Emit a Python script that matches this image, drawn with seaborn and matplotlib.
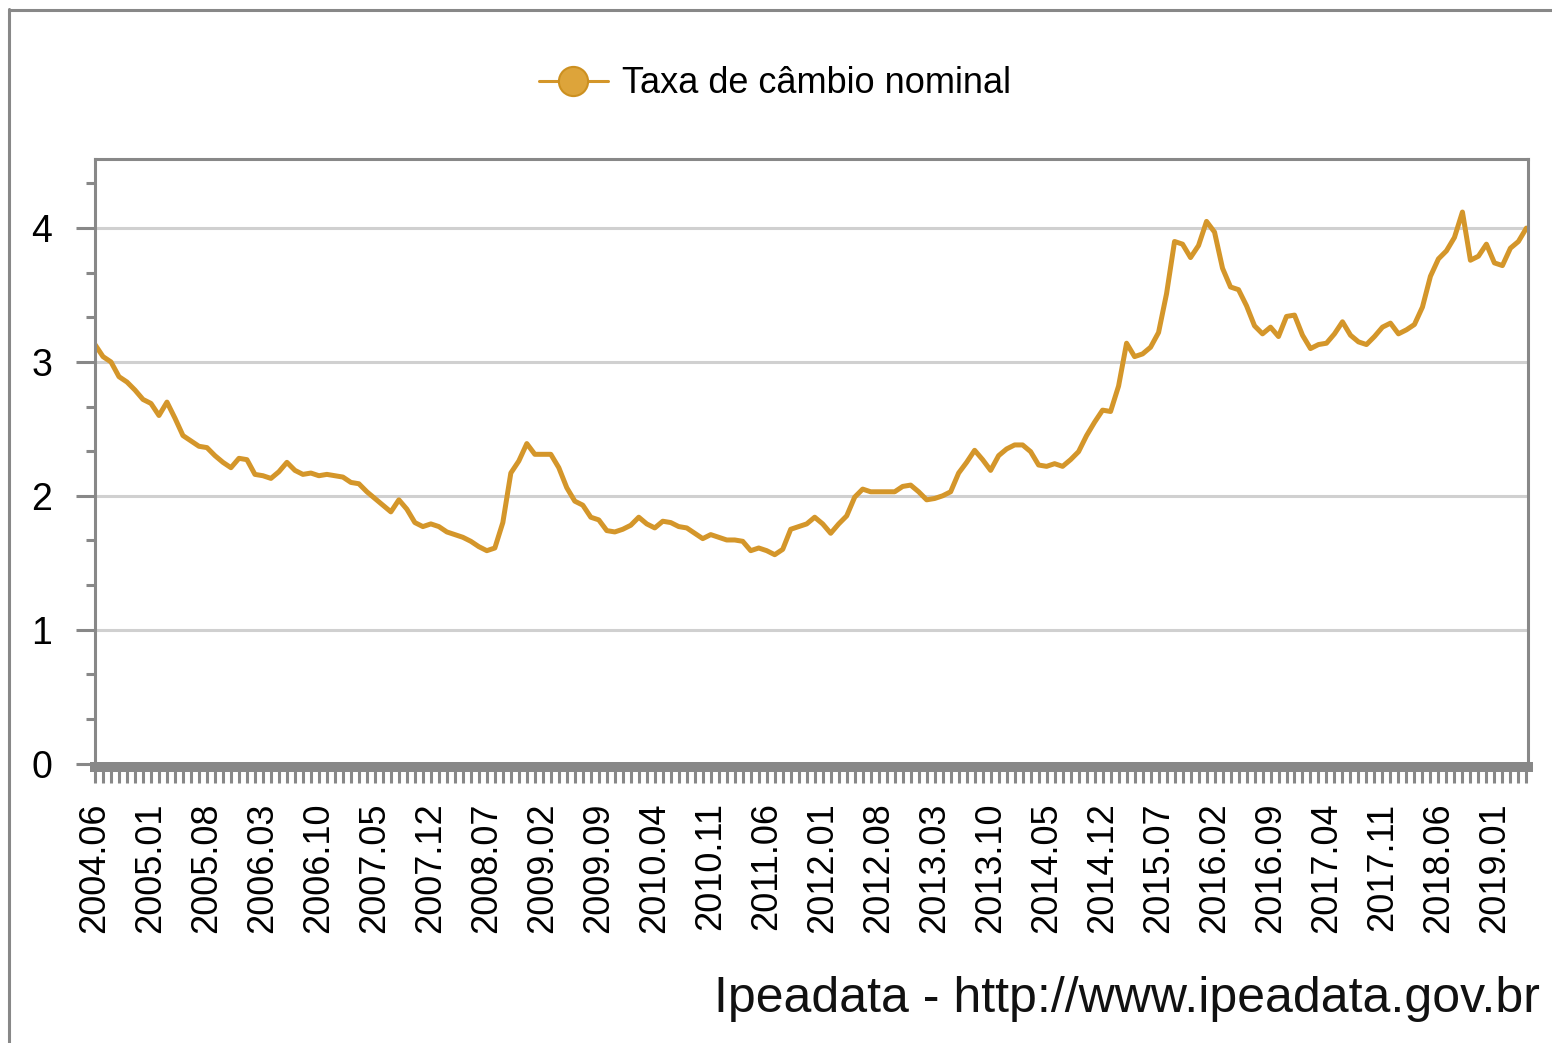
import pandas as pd
import numpy as np
import matplotlib
matplotlib.use("Agg")
import matplotlib.pyplot as plt
from matplotlib.lines import Line2D
from matplotlib.ticker import FixedLocator, FixedFormatter
import seaborn as sns

# monthly nominal exchange rate, 2004.06 - 2019.05
taxa_2004 = [3.13, 3.04, 3.00, 2.89, 2.85, 2.79, 2.72]
taxa_2005 = [2.69, 2.60, 2.70, 2.58, 2.45, 2.41, 2.37, 2.36, 2.30, 2.25, 2.21, 2.28]
taxa_2006 = [2.27, 2.16, 2.15, 2.13, 2.18, 2.25, 2.19, 2.16, 2.17, 2.15, 2.16, 2.15]
taxa_2007 = [2.14, 2.10, 2.09, 2.03, 1.98, 1.93, 1.88, 1.97, 1.90, 1.80, 1.77, 1.79]
taxa_2008 = [1.77, 1.73, 1.71, 1.69, 1.66, 1.62, 1.59, 1.61, 1.80, 2.17, 2.26, 2.39]
taxa_2009 = [2.31, 2.31, 2.31, 2.21, 2.06, 1.96, 1.93, 1.84, 1.82, 1.74, 1.73, 1.75]
taxa_2010 = [1.78, 1.84, 1.79, 1.76, 1.81, 1.80, 1.77, 1.76, 1.72, 1.68, 1.71, 1.69]
taxa_2011 = [1.67, 1.67, 1.66, 1.59, 1.61, 1.59, 1.56, 1.60, 1.75, 1.77, 1.79, 1.84]
taxa_2012 = [1.79, 1.72, 1.79, 1.85, 1.99, 2.05, 2.03, 2.03, 2.03, 2.03, 2.07, 2.08]
taxa_2013 = [2.03, 1.97, 1.98, 2.00, 2.03, 2.17, 2.25, 2.34, 2.27, 2.19, 2.30, 2.35]
taxa_2014 = [2.38, 2.38, 2.33, 2.23, 2.22, 2.24, 2.22, 2.27, 2.33, 2.45, 2.55, 2.64]
taxa_2015 = [2.63, 2.82, 3.14, 3.04, 3.06, 3.11, 3.22, 3.51, 3.90, 3.88, 3.78, 3.87]
taxa_2016 = [4.05, 3.97, 3.70, 3.56, 3.54, 3.42, 3.27, 3.21, 3.26, 3.19, 3.34, 3.35]
taxa_2017 = [3.20, 3.10, 3.13, 3.14, 3.21, 3.30, 3.20, 3.15, 3.13, 3.19, 3.26, 3.29]
taxa_2018 = [3.21, 3.24, 3.28, 3.41, 3.64, 3.77, 3.83, 3.93, 4.12, 3.76, 3.79, 3.88]
taxa_2019 = [3.74, 3.72, 3.85, 3.90, 4.00]

tick_labels = ["2004.06", "2005.01", "2005.08", "2006.03", "2006.10", "2007.05",
               "2007.12", "2008.07", "2009.02", "2009.09", "2010.04", "2010.11",
               "2011.06", "2012.01", "2012.08", "2013.03", "2013.10", "2014.05",
               "2014.12", "2015.07", "2016.02", "2016.09", "2017.04", "2017.11",
               "2018.06", "2019.01"]

serie = "Taxa de câmbio nominal"
fonte = "Ipeadata - http://www.ipeadata.gov.br"

GOLD = "#D4962A"
GRAY = "#888888"


def build_frame():
    valores = (taxa_2004 + taxa_2005 + taxa_2006 + taxa_2007 + taxa_2008 +
               taxa_2009 + taxa_2010 + taxa_2011 + taxa_2012 + taxa_2013 +
               taxa_2014 + taxa_2015 + taxa_2016 + taxa_2017 + taxa_2018 +
               taxa_2019)
    meses = pd.period_range("2004-06", periods=len(valores), freq="M")
    df = pd.DataFrame({"mes": meses.strftime("%Y.%m"), "taxa": valores})
    df["pos"] = range(len(df))
    return df


def generate_plot(df):
    sns.set_style("white")
    plt.rcParams["font.family"] = ["Liberation Sans", "DejaVu Sans"]

    fig = plt.figure(figsize=(15.52, 10.43), dpi=100)
    ax = fig.add_axes([95 / 1552, 1 - 763.5 / 1043, 1433 / 1552, 605 / 1043])

    sns.lineplot(x="pos", y="taxa", data=df, color=GOLD, linewidth=3.6, ax=ax)

    # axis limits and ticks
    ax.set_xlim(0, len(df) - 0.8)
    ax.set_ylim(0, 4.52)
    lab_pos = [df.index[df["mes"] == t][0] for t in tick_labels]
    ax.xaxis.set_major_locator(FixedLocator(lab_pos))
    ax.xaxis.set_major_formatter(FixedFormatter(tick_labels))
    ax.xaxis.set_minor_locator(FixedLocator(list(df["pos"])))
    ax.yaxis.set_major_locator(FixedLocator([0, 1, 2, 3, 4]))
    ax.yaxis.set_major_formatter(FixedFormatter(["0", "1", "2", "3", "4"]))
    ax.yaxis.set_minor_locator(FixedLocator(
        [v / 3 for v in range(1, 14) if v % 3 != 0]))

    ax.tick_params(axis="x", which="both", direction="out", length=11.5,
                   width=2.2, color=GRAY, bottom=True)
    ax.tick_params(axis="x", which="major", pad=14, labelsize=26,
                   labelrotation=90, labelcolor="black")
    ax.tick_params(axis="y", which="major", direction="out", length=13.7,
                   width=2.2, color=GRAY, pad=17, left=True, labelsize=27,
                   labelcolor="black")
    ax.tick_params(axis="y", which="minor", direction="out", length=6.5,
                   width=2.2, color=GRAY, left=True)

    ax.set_xlabel("")
    ax.set_ylabel("")

    # grid and frame
    ax.yaxis.grid(True, color="#D0D0D0", linewidth=2.2)
    ax.xaxis.grid(False)
    for side in ["left", "top", "right"]:
        ax.spines[side].set_color(GRAY)
        ax.spines[side].set_linewidth(2.2)
    ax.spines["bottom"].set_color(GRAY)
    ax.spines["bottom"].set_linewidth(7.2)
    ax.spines["bottom"].set_position(("outward", 2.5))

    # legend on top
    handle = Line2D([], [], color=GOLD, linewidth=2.2, marker="o",
                    markersize=21, markerfacecolor="#DDA43A",
                    markeredgecolor="#CC9020", markeredgewidth=1.5)
    leg = fig.legend([handle], [serie], loc="center",
                     bbox_to_anchor=(0.4994, 0.9195), frameon=False,
                     fontsize=26, handlelength=1.9, handletextpad=0.4)
    for t in leg.get_texts():
        t.set_color("black")

    # source text
    fig.text(0.992, 1 - 1012 / 1043, fonte, ha="right", va="baseline",
             fontsize=36, color="#111111")

    # outer panel border
    fig.add_artist(Line2D([8.5 / 1552, 8.5 / 1552], [0, 1 - 8.5 / 1043],
                          transform=fig.transFigure, color=GRAY, linewidth=2.2))
    fig.add_artist(Line2D([8.5 / 1552, 1], [1 - 9.5 / 1043, 1 - 9.5 / 1043],
                          transform=fig.transFigure, color=GRAY, linewidth=2.2))

    plt.savefig("out.png", dpi=100)


def main():
    df = build_frame()
    generate_plot(df)


if __name__ == "__main__":
    main()
